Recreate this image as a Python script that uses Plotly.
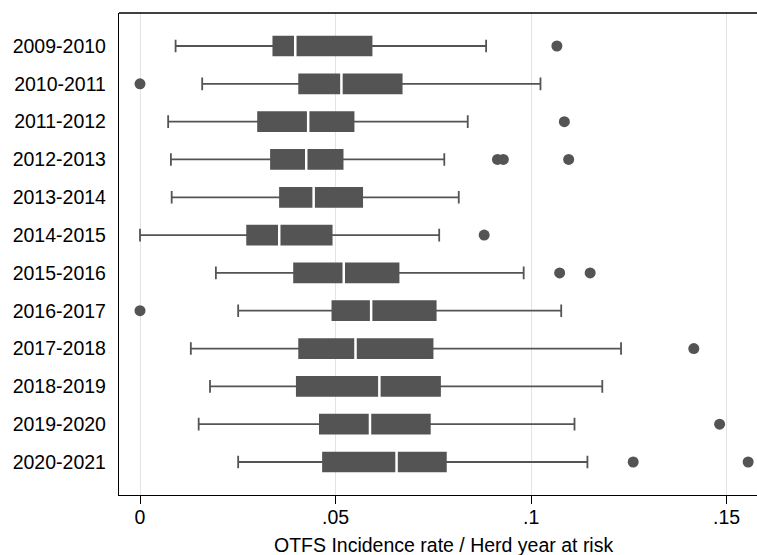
import plotly.graph_objects as go

seasons = ["2009-2010", "2010-2011", "2011-2012", "2012-2013", "2013-2014", "2014-2015",
           "2015-2016", "2016-2017", "2017-2018", "2018-2019", "2019-2020", "2020-2021"]
lower_whisker = [0.0091, 0.0159, 0.0072, 0.0079, 0.0081, 0.0000, 0.0194, 0.0251, 0.0130, 0.0179, 0.0150, 0.0251]
q1 = [0.0341, 0.0407, 0.0302, 0.0335, 0.0358, 0.0274, 0.0394, 0.0492, 0.0407, 0.0401, 0.0460, 0.0468]
median = [0.0397, 0.0515, 0.0430, 0.0425, 0.0444, 0.0356, 0.0521, 0.0591, 0.0551, 0.0612, 0.0588, 0.0656]
q3 = [0.0592, 0.0669, 0.0546, 0.0518, 0.0568, 0.0490, 0.0661, 0.0756, 0.0748, 0.0767, 0.0741, 0.0782]
upper_whisker = [0.0885, 0.1024, 0.0838, 0.0778, 0.0815, 0.0765, 0.0981, 0.1077, 0.1230, 0.1182, 0.1111, 0.1144]
outliers = [[0.1066], [0.0], [0.1085], [0.0914, 0.0929, 0.1096], [], [0.0880],
            [0.1073, 0.1151], [0.0], [0.1416], [], [0.1482], [0.1261, 0.1555]]
x_ticks = [0, 0.05, 0.1, 0.15]
x_tick_labels = ["0", ".05", ".1", ".15"]
x_title = "OTFS Incidence rate / Herd year at risk"

pos = list(range(len(seasons)))
dark = "#545454"
FONT = "Liberation Sans, Arial, Helvetica, sans-serif"

fig = go.Figure()
fig.add_trace(go.Box(
    y=pos, q1=q1, median=median, q3=q3,
    lowerfence=lower_whisker, upperfence=upper_whisker,
    orientation="h", width=0.5, whiskerwidth=0.67,
    fillcolor=dark, line=dict(color=dark, width=1.8),
    boxpoints=False, hoverinfo="skip", showlegend=False,
))
fig.add_trace(go.Scatter(
    x=median, y=pos, mode="markers",
    marker=dict(symbol="line-ns", size=19, line=dict(color="white", width=2.5)),
    hoverinfo="skip", showlegend=False,
))
ox, oy = [], []
for i, vals in enumerate(outliers):
    for v in vals:
        ox.append(v)
        oy.append(i)
fig.add_trace(go.Scatter(
    x=ox, y=oy, mode="markers",
    marker=dict(symbol="circle", size=11, color=dark, line=dict(width=0)),
    hoverinfo="skip", showlegend=False,
))

fig.update_layout(
    width=757, height=555,
    margin=dict(l=119, r=0, t=13, b=60),
    plot_bgcolor="white", paper_bgcolor="white",
    font=dict(family=FONT, size=19.5, color="black"),
    xaxis=dict(
        range=[-0.00537, 0.15776], tickvals=x_ticks, ticktext=x_tick_labels,
        ticks="outside", ticklen=8, tickcolor="black", tickwidth=1.2,
        showline=True, linecolor="black", linewidth=1.3,
        showgrid=True, gridcolor="#e3e3e3", gridwidth=1.3, zeroline=False,
        tickfont=dict(size=19.5, color="black"), ticklabelstandoff=-4,
    ),
    yaxis=dict(
        range=[11.873, -0.873], tickvals=pos, ticktext=seasons,
        ticks="", showline=True, linecolor="black", linewidth=1.3,
        showgrid=False, zeroline=False, ticklabelstandoff=8,
        tickfont=dict(size=19.5, color="black"),
    ),
    shapes=[dict(type="line", xref="paper", yref="paper", x0=0, x1=1, y0=1, y1=1,
                 line=dict(color="black", width=1.3))],
    annotations=[dict(text=x_title, xref="paper", yref="paper", x=0.509, y=-0.1037,
                      xanchor="center", yanchor="middle", showarrow=False,
                      font=dict(size=19.5, color="black", family=FONT))],
)
fig.write_html("out.html")
